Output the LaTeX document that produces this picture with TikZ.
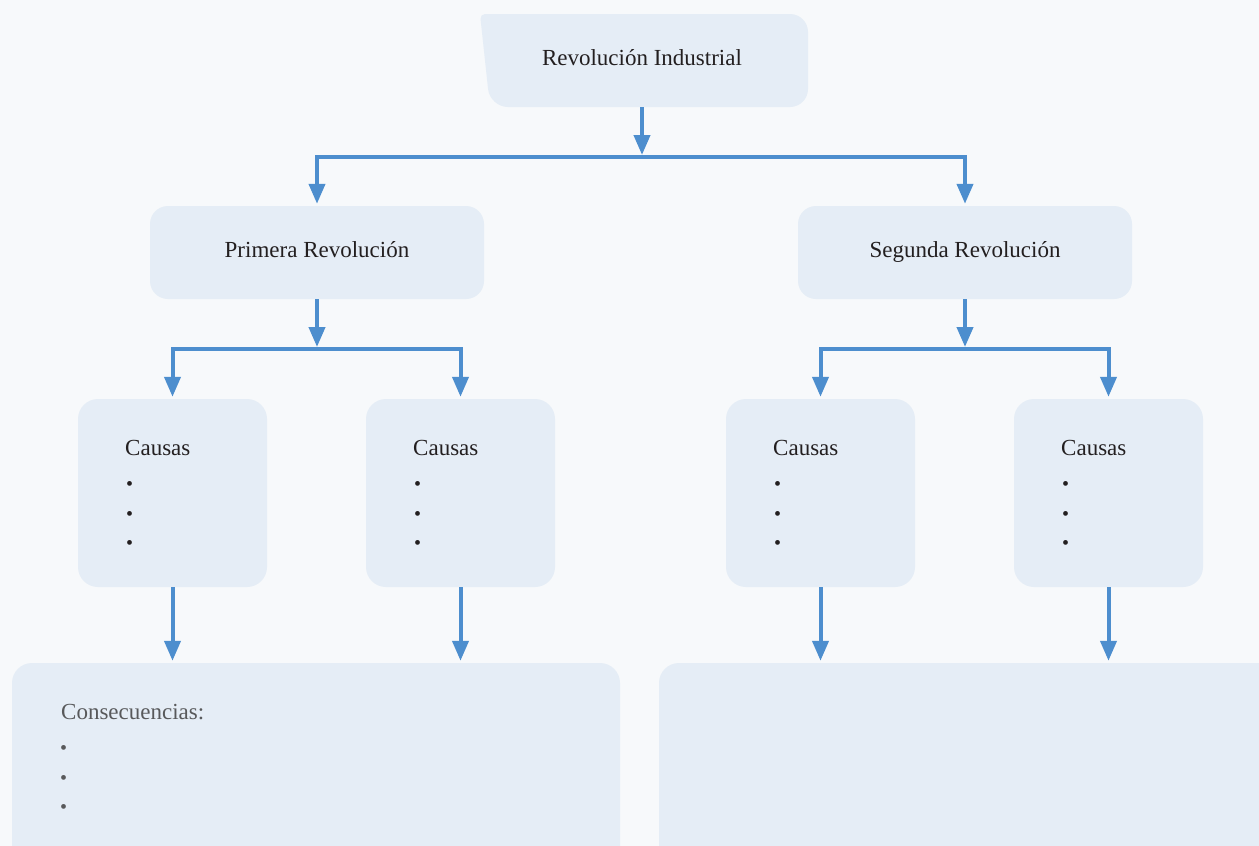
\documentclass[tikz,border=0pt]{standalone}
\usepackage{fontspec}
\setmainfont{Liberation Serif}
\usetikzlibrary{arrows.meta}
\definecolor{bg}{RGB}{247,249,251}
\definecolor{boxfill}{RGB}{229,237,246}
\definecolor{arrowblue}{RGB}{77,142,206}
\definecolor{txtdark}{RGB}{35,31,32}
\definecolor{txtgray}{RGB}{88,89,91}
\tikzset{
  txt/.style={text=txtdark, font=\fontsize{23}{28}\selectfont, inner sep=0pt},
  graytxt/.style={text=txtgray, font=\fontsize{23}{28}\selectfont, inner sep=0pt},
  bultxt/.style={text=txtdark, font=\fontsize{20}{24}\selectfont, inner sep=0pt},
  graybul/.style={text=txtgray, font=\fontsize{20}{24}\selectfont, inner sep=0pt},
  headbox/.style={fill=boxfill, rounded corners=18pt, minimum width=334pt, minimum height=93pt,
     text=txtdark, font=\fontsize{23}{28}\selectfont, inner sep=0pt, text height=16pt, text depth=7pt},
  causebox/.style={fill=boxfill, rounded corners=20pt, minimum width=189pt, minimum height=188pt, inner sep=0pt},
  bottombox/.style={fill=boxfill, rounded corners=20pt, minimum height=217pt, inner sep=0pt},
  arr/.style={draw=arrowblue, line width=4pt, -{Triangle[width=16pt,length=20pt]}, shorten >=2pt},
}
\begin{document}
\begin{tikzpicture}[x=1pt,y=-1pt]
\fill[bg] (0,0) rectangle (1259,846);
\useasboundingbox (0,0) rectangle (1259,846);
\clip (0,0) rectangle (1259,846);

% top box (slanted left edge)
\fill[boxfill] (808,60) [rounded corners=18pt]-- (808,14) [rounded corners=5pt]-- (480,14) [rounded corners=18pt]-- (490,107) -- (808,107) -- cycle;
\node[txt, text height=16pt, text depth=7pt] (top) at (642,60.5) {Revolución Industrial};
\coordinate (tb) at (642,107);

% second level
\node[headbox] (prim) at (317,252.5) {Primera Revolución};
\node[headbox] (seg) at (965,252.5) {Segunda Revolución};

% cause boxes
\node[causebox] (c1) at (172.5,493) {};
\node[causebox] (c2) at (460.5,493) {};
\node[causebox] (c3) at (820.5,493) {};
\node[causebox] (c4) at (1108.5,493) {};

\foreach \n/\x in {1/125, 2/413, 3/773, 4/1061}{
  \node[txt, anchor=base west] (ct\n) at (\x,455) {Causas};
  \node[bultxt, anchor=base west] (cb\n a) at (\x+1,490) {•};
  \node[bultxt, anchor=base west] (cb\n b) at (\x+1,520) {•};
  \node[bultxt, anchor=base west] (cb\n c) at (\x+1,549) {•};
}

% bottom boxes
\node[bottombox, minimum width=608pt] (b1) at (316,771.5) {};
\node[bottombox, minimum width=631pt] (b2) at (974.5,771.5) {};
\node[graytxt, anchor=base west] (cons) at (61,719) {Consecuencias:};
\node[graybul, anchor=base west] (cs1) at (60,754) {•};
\node[graybul, anchor=base west] (cs2) at (60,784) {•};
\node[graybul, anchor=base west] (cs3) at (60,813) {•};

% connectors
\coordinate (j1) at (642,157);
\coordinate (j2) at (317,349);
\coordinate (j3) at (965,349);
\draw[arr] (tb) -- (j1);
\draw[arr] (j1) -| (prim.north);
\draw[arr] (j1) -| (seg.north);
\draw[arr] (prim.south) -- (j2);
\draw[arr] (seg.south) -- (j3);
\draw[arr] (j2) -| (c1.north);
\draw[arr] (j2) -| (c2.north);
\draw[arr] (j3) -| (c3.north);
\draw[arr] (j3) -| (c4.north);
\draw[arr] (c1.south) -- (c1.south |- b1.north);
\draw[arr] (c2.south) -- (c2.south |- b1.north);
\draw[arr] (c3.south) -- (c3.south |- b2.north);
\draw[arr] (c4.south) -- (c4.south |- b2.north);
\end{tikzpicture}
\end{document}
